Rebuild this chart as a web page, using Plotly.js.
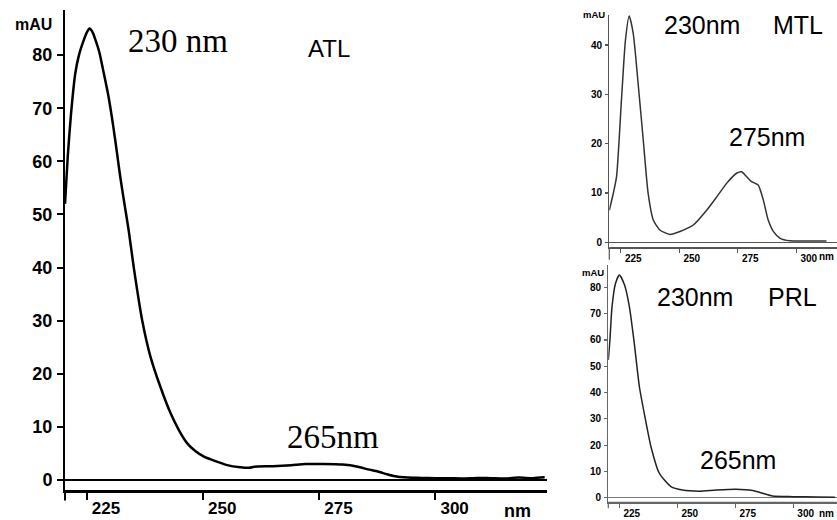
<!DOCTYPE html>
<html>
<head>
<meta charset="utf-8">
<script src="https://cdn.plot.ly/plotly-3.0.1.min.js"></script>
<style>html,body{margin:0;padding:0;background:#fff;}#chart{width:837px;height:520px;}</style>
</head>
<body>
<div id="chart"></div>
<script>
// ATL spectrum (large left panel)
const atlNm = [220.3,220.9,221.6,222.5,223.3,224.2,225.0,225.6,226.3,226.8,227.7,228.5,229.6,230.7,231.5,232.2,233.0,234.0,235.1,236.9,238.7,240.8,243.0,244.8,246.6,248.4,250.2,252.5,255.2,258,260,261,265,269,272,276,280,283.3,285.5,287.6,289.5,291,294,297,300,303,306,309,312,315,318,321,323.5];
const atlAbs = [52,61,69,76.5,80,82.5,84.3,85,84.2,83,80.5,77.2,72.5,66.5,61.5,57,52.5,47,40,30.1,23.2,17.6,12.6,9.4,6.9,5.4,4.4,3.6,2.8,2.4,2.3,2.5,2.6,2.8,3.0,3.0,2.9,2.5,2.0,1.6,1.1,0.75,0.45,0.4,0.35,0.35,0.3,0.4,0.35,0.3,0.45,0.35,0.5];

// MTL spectrum (top right panel)
const mtlNm = [220.1,221.8,223.2,225.3,227.0,228.6,230.3,232.4,234.6,236.7,238.9,241.7,246,250.3,256,261.7,266,270.3,274.5,276.6,278.8,280.9,283.7,285.9,288,290.2,293.1,297.3,305,312.9];
const mtlAbs = [6.5,9.9,13.3,28.9,41,45.9,42.4,32.3,20.8,9.9,4.5,2.5,1.6,2.2,3.5,6.5,9.2,12.0,14.0,14.3,13.3,12.3,11.6,8.6,4.5,2.2,0.8,0.3,0.25,0.25];

// PRL spectrum (bottom right panel)
const prlNm = [220.3,221,221.9,223.4,225.1,227.3,229.4,231.5,233.7,235.8,238.7,242.3,247.3,252.3,259.5,266.7,275.3,282.5,286.8,291.1,299.7,310,318];
const prlAbs = [52.4,60,72.6,81.5,84.7,80.9,72.6,58.7,42.2,32.1,19.4,9.3,4.2,2.9,2.5,2.9,3.2,2.7,1.7,0.65,0.4,0.25,0.15];

const xTicks = [225,250,275,300];
const yTicksBig = [0,10,20,30,40,50,60,70,80];
const yTicksMtl = [0,10,20,30,40];

const W = 837, H = 520;
const px = x => x / W;
const py = y => 1 - y / H;
const SANS = 'Liberation Sans, Arial, sans-serif';
const SERIF = 'Liberation Serif, Times New Roman, serif';

const traces = [
  {x: atlNm, y: atlAbs, xaxis:'x', yaxis:'y', mode:'lines', line:{color:'#000', width:2.5, shape:'spline', smoothing:0.6}, hoverinfo:'skip'},
  {x: mtlNm, y: mtlAbs, xaxis:'x2', yaxis:'y2', mode:'lines', line:{color:'#333', width:1.5, shape:'spline', smoothing:0.6}, hoverinfo:'skip'},
  {x: prlNm, y: prlAbs, xaxis:'x3', yaxis:'y3', mode:'lines', line:{color:'#222', width:1.5, shape:'spline', smoothing:0.6}, hoverinfo:'skip'}
];

function xAx(domain, range, anchor, col, lw, fs, tl) {
  return {domain, range, anchor, tickvals:xTicks, ticks:'outside', ticklen:tl, tickwidth:lw, tickcolor:col,
    showline:true, linecolor:col, linewidth:lw, showgrid:false, zeroline:false,
    ticklabelposition:'outside right', ticklabelshift:3, ticklabelstandoff:1,
    tickfont:{family:SANS, size:fs, weight:'bold', color:'#000'}, fixedrange:true};
}
function yAx(domain, range, anchor, vals, col, lw, fs, tl, zc) {
  return {domain, range, anchor, tickvals:vals, ticks:'outside', ticklen:tl, tickwidth:lw, tickcolor:col,
    showline:true, linecolor:col, linewidth:lw, showgrid:false, zeroline:true, zerolinecolor:zc, zerolinewidth:lw,
    ticklabelstandoff:1,
    tickfont:{family:SANS, size:fs, weight:'bold', color:'#000'}, fixedrange:true};
}

function ann(text, x, y, font, size, opts) {
  return Object.assign({text, x:px(x), y:py(y), xref:'paper', yref:'paper', showarrow:false,
    xanchor:'center', yanchor:'middle', font:{family:font, size, color:'#000'}}, opts||{});
}

function axisLines(n, col, lw, stub) {
  const xr = (n === 1 ? 'x' : 'x' + n) + ' domain';
  const yr = (n === 1 ? 'y' : 'y' + n) + ' domain';
  return [
    {type:'line', xref:xr, yref:yr, x0:0, x1:0, y0:0, y1:-stub, line:{color:col, width:lw}},
    {type:'line', xref:xr, yref:yr, x0:0, x1:1, y0:0, y1:0, line:{color:col, width:lw}}
  ];
}

const layout = {
  width: W, height: H,
  margin:{l:0,r:0,t:0,b:0},
  paper_bgcolor:'#fff', plot_bgcolor:'rgba(0,0,0,0)',
  showlegend:false,
  xaxis: xAx([px(65), px(547)], [220.3, 324], 'y', '#000', 2, 17, 7),
  yaxis: yAx([py(491), py(10)], [-2.07, 88.5], 'x', yTicksBig, '#000', 2, 18, 6, '#000'),
  xaxis2: xAx([px(609.3), 1], [220.1, 317.4], 'y2', '#555', 1.2, 10, 4),
  yaxis2: yAx([py(247.7), py(15)], [-1.1, 46.1], 'x2', yTicksMtl, '#555', 1.2, 10, 3, '#555'),
  xaxis3: xAx([px(608.3), 1], [220.3, 318.9], 'y3', '#666', 1.2, 10, 4),
  yaxis3: yAx([py(502.3), py(265)], [-1.75, 88.5], 'x3', yTicksBig, '#666', 1.2, 10, 3, '#777'),
  shapes: [].concat(
    axisLines(1, '#000', 2, 0.02),
    axisLines(2, '#555', 1.2, 0.052),
    axisLines(3, '#666', 1.2, 0.025)
  ),
  annotations: [
    ann('230 nm', 177.5, 41, SERIF, 33),
    ann('ATL', 329, 48.3, SANS, 24),
    ann('265nm', 333.3, 436.7, SERIF, 33),
    ann('<b>mAU</b>', 33, 24.3, SANS, 16),
    ann('<b>nm</b>', 517, 511, SANS, 18),
    ann('230nm', 702.2, 25, SANS, 25),
    ann('MTL', 798, 25, SANS, 25),
    ann('275nm', 767.3, 136.7, SANS, 25),
    ann('<b>mAU</b>', 594, 14.7, SANS, 9.5),
    ann('<b>nm</b>', 836, 256, SANS, 10, {xanchor:'right'}),
    ann('230nm', 695.3, 296.7, SANS, 25),
    ann('PRL', 792, 296.7, SANS, 25),
    ann('265nm', 738, 460, SANS, 25),
    ann('<b>mAU</b>', 593, 272.3, SANS, 9.5),
    ann('<b>nm</b>', 836, 513, SANS, 10, {xanchor:'right'})
  ]
};

Plotly.newPlot('chart', traces, layout, {displayModeBar:false, staticPlot:true});
</script>
</body>
</html>
